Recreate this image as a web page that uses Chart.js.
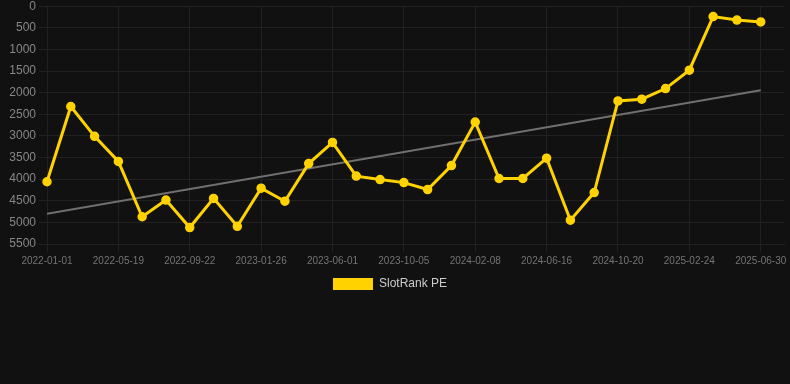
<!DOCTYPE html>
<html>
<head>
<meta charset="utf-8">
<script src="https://cdn.jsdelivr.net/npm/chart.js@4.4.0/dist/chart.umd.min.js"></script>
<style>
  html, body { margin: 0; padding: 0; background: #111111; overflow: hidden; }
  #wrap { position: relative; width: 790px; height: 304px; margin-top: -4px; }
</style>
</head>
<body>
<div id="wrap"><canvas id="rankChart"></canvas></div>
<script>
// dates of each sample (only every 3rd is shown on the axis)
const dateLabels = [
  '2022-01-01', '2022-02-16', '2022-04-03', '2022-05-19', '2022-07-01', '2022-08-12',
  '2022-09-22', '2022-11-03', '2022-12-15', '2023-01-26', '2023-03-09', '2023-04-20',
  '2023-06-01', '2023-07-13', '2023-08-24', '2023-10-05', '2023-11-16', '2023-12-28',
  '2024-02-08', '2024-03-21', '2024-05-03', '2024-06-16', '2024-07-28', '2024-09-08',
  '2024-10-20', '2024-12-01', '2025-01-12', '2025-02-24', '2025-04-07', '2025-05-19',
  '2025-06-30'
];

// rank values
const rankValues = [
  4060, 2320, 3010, 3590, 4870, 4485, 5120, 4445, 5090, 4210, 4510,
  3640, 3150, 3930, 4010, 4080, 4240, 3685, 2680, 3985, 3985, 3515,
  4950, 4310, 2190, 2150, 1905, 1480, 240, 320, 365
];

// trend line end points (first and last date)
const trendEnds = [4800, 1945];

const yellow = '#FFD200';
const trendColor = '#707070';
const gridColor = '#212121';
const fontFamily = 'Arial, "Liberation Sans", sans-serif';

const ctx = document.getElementById('rankChart');

// x is the sample index, labelled with its date
const rankPoints = rankValues.map((v, i) => ({ x: i, y: v }));
const trendPoints = [
  { x: 0, y: trendEnds[0] },
  { x: dateLabels.length - 1, y: trendEnds[1] }
];

new Chart(ctx, {
  type: 'line',
  data: {
    datasets: [
      {
        label: 'SlotRank PE',
        data: rankPoints,
        borderColor: yellow,
        backgroundColor: yellow,
        borderWidth: 3,
        pointRadius: 4,
        pointBorderWidth: 1.5,
        pointHoverRadius: 4,
        pointBackgroundColor: yellow,
        pointBorderColor: yellow,
        tension: 0,
        fill: false,
        clip: false
      },
      {
        label: 'trend',
        data: trendPoints,
        borderColor: trendColor,
        borderWidth: 2,
        pointRadius: 0,
        fill: false
      }
    ]
  },
  options: {
    responsive: true,
    maintainAspectRatio: false,
    animation: false,
    layout: {
      padding: { left: -10, right: 0, top: 0, bottom: 0 }
    },
    plugins: {
      legend: {
        position: 'bottom',
        labels: {
          color: '#cccccc',
          font: { family: fontFamily, size: 12 },
          boxWidth: 40,
          boxHeight: 12,
          padding: 8,
          filter: (item) => item.text !== 'trend',
          generateLabels: (chart) => {
            const items = Chart.defaults.plugins.legend.labels.generateLabels(chart);
            items.forEach((it) => { it.lineWidth = 0; });
            return items;
          }
        }
      },
      tooltip: { enabled: false }
    },
    scales: {
      x: {
        type: 'linear',
        min: 0,
        max: dateLabels.length,
        grid: { color: gridColor },
        border: { color: gridColor },
        ticks: {
          stepSize: 3,
          color: '#747474',
          font: { family: fontFamily, size: 10 },
          maxRotation: 0,
          autoSkip: false,
          callback: (val) => dateLabels[val] || ''
        },
        afterBuildTicks: (axis) => {
          axis.ticks = axis.ticks.filter((t) => t.value < dateLabels.length);
        }
      },
      y: {
        reverse: true,
        min: 0,
        max: 5500,
        grid: { color: gridColor },
        border: { color: gridColor },
        afterFit: (axis) => { axis.width = 57; },
        ticks: {
          stepSize: 500,
          color: '#878787',
          font: { family: fontFamily, size: 12 },
          callback: (val) => String(val)
        }
      }
    }
  }
});
</script>
</body>
</html>
